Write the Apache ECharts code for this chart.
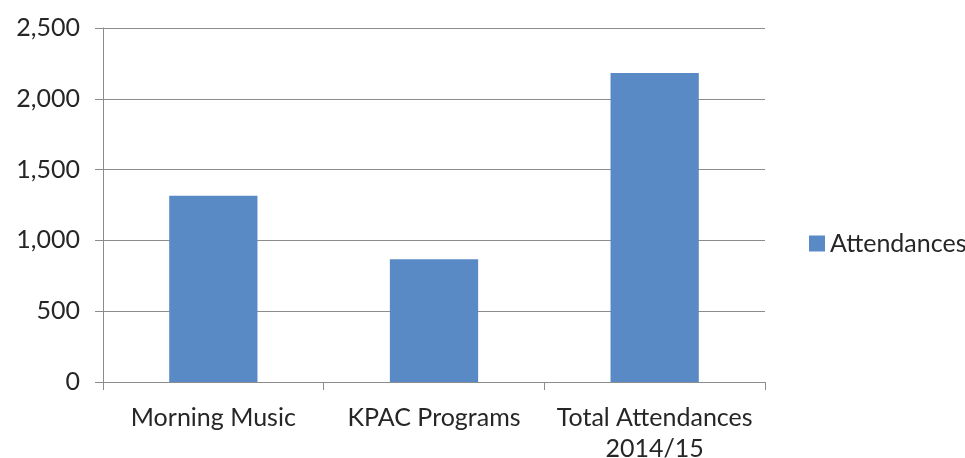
<!DOCTYPE html>
<html>
<head>
<meta charset="utf-8">
<script src="https://cdn.jsdelivr.net/npm/echarts@6/dist/echarts.min.js"></script>
<style>
html,body{margin:0;padding:0;background:#fff;}
#chart{width:965px;height:458px;}
</style>
</head>
<body>
<div id="chart"></div>
<script>
const categories = ['Morning Music', 'KPAC Programs', 'Total Attendances\n2014/15'];
const seriesName = 'Attendances';
const attendances = [1316, 866, 2182];
const yTicks = { min: 0, max: 2500, interval: 500 };

const FONT = 'Lato';
const chart = echarts.init(document.getElementById('chart'), null, { renderer: 'canvas' });
chart.setOption({
  animation: false,
  backgroundColor: '#ffffff',
  textStyle: { fontFamily: FONT },
  grid: { left: 103, right: 200, top: 28, bottom: 76, containLabel: false, outerBoundsMode: 'none' },
  legend: {
    data: [seriesName],
    orient: 'vertical',
    left: 804,
    top: 226,
    itemWidth: 16,
    itemHeight: 16,
    itemGap: 8,
    icon: 'rect',
    textStyle: { fontFamily: FONT, fontSize: 25, color: '#262626' }
  },
  xAxis: {
    type: 'category',
    data: categories,
    axisLine: { show: true, lineStyle: { color: '#8c8c8c', width: 1 } },
    axisTick: { show: true, length: 8, lineStyle: { color: '#8c8c8c' } },
    axisLabel: { fontFamily: FONT, fontSize: 25, color: '#262626', margin: 20, lineHeight: 31, interval: 0 },
    splitLine: { show: false }
  },
  yAxis: {
    type: 'value',
    min: yTicks.min,
    max: yTicks.max,
    interval: yTicks.interval,
    axisLine: { show: true, lineStyle: { color: '#8c8c8c', width: 1 } },
    axisTick: { show: true, length: 8, lineStyle: { color: '#8c8c8c' } },
    axisLabel: {
      fontFamily: FONT, fontSize: 25, color: '#262626', margin: 23,
      formatter: v => v.toLocaleString('en-US')
    },
    splitLine: { show: true, lineStyle: { color: '#8c8c8c', width: 1 } }
  },
  series: [{
    name: seriesName,
    type: 'bar',
    data: attendances,
    barWidth: '40%',
    itemStyle: { color: '#598AC5' }
  }]
});
</script>
</body>
</html>
